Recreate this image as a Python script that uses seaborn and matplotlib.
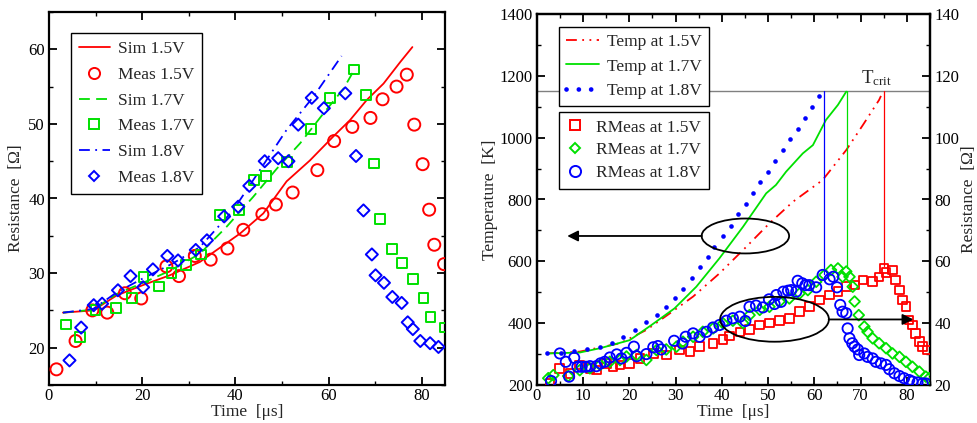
import numpy as np
import pandas as pd
import matplotlib
matplotlib.use("Agg")
import matplotlib.pyplot as plt
from matplotlib.patches import Ellipse
from matplotlib.lines import Line2D
from matplotlib.ticker import MultipleLocator
import seaborn as sns

# ---------------- Left panel data ----------------
sim15_t = [3.0, 9.5, 14.5, 20.2, 25.9, 32.4, 36.0, 41.0, 46.0, 51.0, 56.0, 61.0, 64.6, 68.2, 71.8, 75.4, 78.0]
sim15_r = [24.7, 25.0, 27.0, 28.4, 29.7, 31.5, 33.1, 35.3, 38.0, 42.3, 45.1, 48.3, 50.5, 53.2, 55.4, 58.3, 60.3]
meas15_t = [1.6, 5.7, 9.3, 12.5, 16.3, 19.8, 25.2, 27.9, 31.3, 34.7, 38.3, 41.7, 45.8, 48.7, 52.3, 57.6, 61.2, 65.1, 69.0, 71.6, 74.6, 76.8, 78.4, 80.2, 81.6, 82.7, 84.8]
meas15_r = [17.1, 20.9, 25.0, 24.7, 27.3, 26.6, 30.9, 29.6, 32.3, 31.8, 33.3, 35.8, 37.9, 39.2, 40.8, 43.8, 47.7, 49.6, 50.8, 53.3, 55.0, 56.6, 49.9, 44.6, 38.5, 33.8, 31.2]
sim17_t = [3.0, 9.5, 14.5, 20.2, 25.9, 32.4, 38.1, 43.8, 48.9, 53.9, 58.9, 63.2, 65.3]
sim17_r = [24.7, 25.1, 27.2, 28.7, 30.3, 32.6, 36.2, 40.2, 44.0, 47.4, 51.4, 54.7, 57.0]
meas17_t = [3.6, 6.7, 10.0, 14.3, 17.9, 20.3, 23.6, 26.3, 29.4, 32.7, 36.7, 40.8, 44.0, 46.5, 51.1, 56.2, 60.3, 65.5, 68.0, 69.8, 71.1, 73.7, 75.8, 78.1, 80.4, 81.9, 84.9]
meas17_r = [23.1, 21.4, 25.0, 25.3, 26.7, 29.5, 28.2, 30.0, 31.1, 32.5, 37.8, 38.5, 42.5, 43.0, 44.9, 49.3, 53.5, 57.3, 53.9, 44.7, 37.3, 33.2, 31.3, 29.2, 26.7, 24.1, 22.7]
sim18_t = [3.0, 9.5, 14.5, 20.2, 26.6, 32.4, 39.5, 46.0, 51.0, 56.7, 62.8]
sim18_r = [24.7, 25.2, 27.4, 29.3, 31.3, 33.5, 38.4, 44.5, 49.2, 53.6, 59.1]
meas18_t = [4.4, 6.9, 9.6, 11.4, 14.8, 17.5, 20.2, 22.3, 25.4, 27.7, 31.5, 33.9, 37.6, 40.6, 43.0, 46.3, 49.2, 51.4, 53.5, 56.4, 59.0, 63.6, 65.9, 67.5, 69.3, 70.1, 71.9, 73.7, 75.7, 77.0, 78.1, 79.7, 81.8, 83.6]
meas18_r = [18.3, 22.7, 25.7, 25.9, 27.7, 29.6, 28.1, 30.5, 32.3, 31.7, 33.1, 34.4, 37.6, 38.9, 41.7, 45.0, 45.4, 45.0, 49.9, 53.5, 52.1, 54.1, 45.7, 38.4, 32.5, 29.7, 28.7, 26.8, 26.0, 23.4, 22.5, 20.9, 20.6, 20.1]

# ---------------- Right panel data ----------------
temp15_t = [2.2, 9.3, 18.0, 23.7, 28.8, 33.8, 39.5, 45.3, 50.3, 55.4, 61.8, 66.9, 70.5, 74.0, 74.4]
temp15_T = [302, 308, 335, 378, 432, 486, 561, 647, 723, 793, 863, 960, 1041, 1122, 1135]
temp17_t = [2.2, 9.3, 13.7, 20.1, 24.8, 29.8, 34.5, 39.5, 44.6, 49.6, 51.7, 53.9, 57.5, 59.7, 62.5, 65.1, 66.9]
temp17_T = [302, 305, 319, 345, 394, 448, 518, 610, 712, 820, 847, 890, 949, 976, 1057, 1106, 1149]
temp18_t = [2.3, 5.2, 8.0, 10.8, 13.6, 16.2, 18.7, 21.2, 23.7, 25.9, 28.0, 29.8, 31.6, 33.5, 35.2, 37.0, 38.4, 40.2,
            42.1, 43.6, 45.2, 46.7, 48.3, 49.9, 51.6, 53.2, 54.8, 56.4, 57.9, 59.4, 61.0]
temp18_T = [303, 305, 309, 315, 324, 337, 354, 378, 405, 426, 451, 480, 510, 547, 583, 615, 647, 682,
            715, 752, 786, 822, 855, 890, 925, 960, 995, 1028, 1065, 1100, 1135]

rm15_t = [2.9, 4.9, 7.2, 9.3, 11.5, 12.9, 15.1, 16.5, 18.0, 20.1, 22.3, 25.2, 28.0, 30.9, 33.1, 35.2, 38.1, 40.3, 41.7, 43.9,
          46.0, 48.2, 50.3, 52.5, 54.6, 56.8, 58.9, 61.1, 63.3, 65.1, 66.9, 68.7, 70.5, 72.6, 74.0, 75.5, 75.1, 76.9, 77.6,
          78.4, 79.1, 79.8, 80.5, 81.2, 81.9, 82.7, 83.4, 84.5]
rm15_r = [20.5, 25.4, 23.8, 26.5, 25.4, 24.8, 27.0, 25.9, 26.5, 27.0, 28.6, 30.2, 29.7, 31.3, 30.8, 32.4, 33.5, 34.8, 35.9, 37.2,
          38.0, 39.4, 40.0, 40.8, 41.6, 43.7, 45.3, 47.5, 49.1, 50.2, 51.8, 52.3, 54.0, 53.4, 55.0, 56.3, 57.7, 57.2, 54.0,
          50.7, 47.5, 45.3, 41.0, 39.4, 36.7, 34.0, 32.4, 31.3]
rm17_t = [2.5, 3.6, 6.8, 9.3, 11.5, 13.7, 15.8, 18.0, 19.4, 21.6, 23.7, 25.9, 28.0, 30.2, 31.6, 33.8, 35.9, 38.1, 40.3, 42.4,
          44.6, 46.0, 48.2, 50.3, 52.5, 54.6, 56.8, 58.6, 60.4, 62.2, 63.6, 65.1, 66.1, 66.9, 67.6, 68.3, 68.7, 69.6, 70.8,
          71.5, 72.6, 74.0, 75.5, 76.9, 78.4, 79.8, 81.2, 82.7, 84.1, 84.8]
rm17_r = [22.2, 23.2, 22.9, 24.8, 25.4, 26.5, 27.5, 28.1, 29.2, 29.7, 28.1, 31.3, 31.5, 32.4, 34.0, 35.6, 37.2, 38.3, 39.9, 40.8,
          40.0, 42.6, 44.3, 45.3, 47.0, 48.0, 49.6, 50.7, 53.4, 55.6, 57.2, 57.7, 55.0, 56.7, 55.0, 51.8, 47.0, 42.6, 38.9,
          37.2, 35.1, 33.5, 31.9, 30.2, 29.1, 27.5, 25.9, 24.3, 22.7, 22.2]
rm18_t = [3.1, 5.0, 6.3, 7.0, 8.1, 8.8, 9.7, 10.6, 11.5, 12.9, 13.8, 14.7, 15.8, 17.3, 18.3, 19.4, 21.0, 21.6, 23.7, 25.2,
          26.2, 26.9, 29.7, 31.5, 32.2, 33.8, 35.2, 36.7, 38.1, 39.5, 41.0, 42.4, 43.9, 45.1, 46.0, 47.4, 48.9, 50.2, 51.4,
          51.8, 52.8, 53.3, 54.3, 55.0, 56.1, 56.4, 57.4, 58.1, 58.9, 60.4, 61.8, 63.3, 64.1, 64.9, 65.6, 66.1, 66.9, 67.2,
          67.6, 68.2, 68.7, 69.4, 69.7, 70.8, 71.5, 72.6, 73.3, 74.4, 75.5, 76.2, 77.3, 78.4, 79.4, 80.5, 81.2, 82.3, 83.4, 84.1]
rm18_r = [21.3, 30.2, 27.5, 22.7, 28.8, 25.9, 25.9, 25.9, 26.1, 26.1, 27.0, 27.5, 28.9, 29.9, 28.6, 30.4, 32.4, 29.3, 30.0, 32.2,
          32.6, 31.5, 34.3, 33.4, 35.6, 36.7, 35.6, 37.2, 38.6, 39.4, 40.8, 41.6, 42.1, 40.7, 45.3, 45.7, 45.1, 47.7, 46.2,
          49.1, 46.9, 50.2, 50.5, 50.7, 50.2, 53.7, 52.9, 52.3, 52.3, 51.6, 55.6, 54.2, 55.0, 51.6, 45.9, 43.7, 43.2, 38.3,
          35.1, 33.5, 32.4, 31.5, 29.7, 30.2, 29.1, 28.6, 27.5, 27.0, 26.5, 25.1, 23.8, 22.9, 22.2, 21.6, 21.1, 20.8, 20.5, 20.5]

t_crit = 1150
crit_t = [62.0, 67.0, 75.0]            # times where each voltage reaches T_crit
crit_r_low = [56.0, 58.0, 58.5]        # resistance level at which the marker lines end
crit_colors = ["blue", "#00e000", "red"]

# ---------------- Style ----------------
sns.set_theme(style="ticks")
plt.rcParams["font.family"] = ["Liberation Serif", "DejaVu Serif"]
plt.rcParams["mathtext.fontset"] = "stix"
plt.rcParams["axes.linewidth"] = 1.6
plt.rcParams["xtick.direction"] = "in"
plt.rcParams["ytick.direction"] = "in"
plt.rcParams["xtick.major.size"] = 6
plt.rcParams["ytick.major.size"] = 6
plt.rcParams["xtick.minor.size"] = 3
plt.rcParams["ytick.minor.size"] = 3
plt.rcParams["xtick.major.width"] = 1.3
plt.rcParams["ytick.major.width"] = 1.3
plt.rcParams["xtick.minor.width"] = 1.0
plt.rcParams["ytick.minor.width"] = 1.0
plt.rcParams["xtick.color"] = "black"
plt.rcParams["ytick.color"] = "black"
plt.rcParams["axes.edgecolor"] = "black"

RED = "red"
GREEN = "#00e000"
BLUE = "blue"
FS = 12.5
TFS = 12

fig = plt.figure(figsize=(9.78, 4.23), dpi=100)
axL = fig.add_axes([49 / 978, 1 - 385 / 423, 396 / 978, 373 / 423])
axR = fig.add_axes([536.7 / 978, 1 - 385 / 423, 393.3 / 978, 371 / 423])


def line(ax, x, y, color, ls, lw=1.3, label=None):
    sns.lineplot(x=x, y=y, ax=ax, color=color, linestyle=ls, linewidth=lw,
                 sort=False, estimator=None, label=label, legend=False)


def pts(ax, x, y, color, marker, s, lw=1.4):
    sns.scatterplot(x=x, y=y, ax=ax, marker=marker, s=s, facecolor="none",
                    edgecolor=color, linewidth=lw, legend=False, zorder=3)


# ---------------- Left panel ----------------
line(axL, sim15_t, sim15_r, RED, "-")
pts(axL, meas15_t, meas15_r, RED, "o", 75)
line(axL, sim17_t, sim17_r, GREEN, (0, (6, 3.5)))
pts(axL, meas17_t, meas17_r, GREEN, "s", 50)
line(axL, sim18_t, sim18_r, BLUE, (0, (6, 3, 1, 3)))
pts(axL, meas18_t, meas18_r, BLUE, "D", 38)

axL.set_xlim(0, 85)
axL.set_ylim(15, 65)
axL.xaxis.set_major_locator(MultipleLocator(20))
axL.xaxis.set_minor_locator(MultipleLocator(10))
axL.yaxis.set_major_locator(MultipleLocator(10))
axL.yaxis.set_minor_locator(MultipleLocator(5))
axL.tick_params(which="both", top=True, right=True, labelsize=TFS)
axL.tick_params(axis="x", pad=2)
axL.tick_params(axis="y", pad=3)
axL.set_xlabel("Time  [μs]", fontsize=FS, labelpad=0)
axL.set_ylabel("Resistance  [Ω]", fontsize=FS, labelpad=3)

hL = [
    Line2D([], [], color=RED, lw=1.3, ls="-"),
    Line2D([], [], color=RED, lw=0, marker="o", ms=8, mfc="none", mew=1.4),
    Line2D([], [], color=GREEN, lw=1.3, ls=(0, (6, 3.5))),
    Line2D([], [], color=GREEN, lw=0, marker="s", ms=6.5, mfc="none", mew=1.4),
    Line2D([], [], color=BLUE, lw=1.3, ls=(0, (6, 3, 1, 3))),
    Line2D([], [], color=BLUE, lw=0, marker="D", ms=5.5, mfc="none", mew=1.4),
]
labL = ["Sim 1.5V", "Meas 1.5V", "Sim 1.7V", "Meas 1.7V", "Sim 1.8V", "Meas 1.8V"]
legL = axL.legend(hL, labL, loc="upper left", bbox_to_anchor=(0.055, 0.944), borderaxespad=0,
                  fontsize=FS, frameon=True, fancybox=False, edgecolor="black", framealpha=1,
                  handlelength=1.8, labelspacing=0.56, borderpad=0.45, handletextpad=0.45)
legL.get_frame().set_linewidth(1.0)

# ---------------- Right panel ----------------
axR2 = axR.twinx()

axR.axhline(t_crit, color="#808080", lw=1.0, zorder=1)
line(axR, temp15_t, temp15_T, RED, (0, (6, 3, 1, 3, 1, 3)))
line(axR, temp17_t, temp17_T, GREEN, "-")
sns.scatterplot(x=temp18_t, y=temp18_T, ax=axR, marker="o", s=11, color=BLUE,
                edgecolor=BLUE, linewidth=0, legend=False, zorder=3)

pts(axR2, rm15_t, rm15_r, RED, "s", 38, lw=1.3)
pts(axR2, rm17_t, rm17_r, GREEN, "D", 30, lw=1.3)
pts(axR2, rm18_t, rm18_r, BLUE, "o", 55, lw=1.3)

for xt, rl, c in zip(crit_t, crit_r_low, crit_colors):
    axR2.plot([xt, xt], [rl, t_crit / 10], color=c, lw=0.9, zorder=2)

axR.text(70.0, 1160, r"T$_{\mathregular{crit}}$", fontsize=FS + 1, ha="left", va="bottom")

# annotation ellipses and arrows (drawn on resistance axis, R = T/10)
axR2.add_patch(Ellipse((45.1, 68.2), 18.9, 11.3, fill=False, ec="black", lw=1.3, zorder=5))
axR2.add_patch(Ellipse((51.4, 41.25), 23.5, 14.5, fill=False, ec="black", lw=1.3, zorder=5))
axR2.annotate("", xy=(6.6, 68.2), xytext=(35.7, 68.2),
              arrowprops=dict(arrowstyle="-|>", color="black", lw=1.3, mutation_scale=16, shrinkA=0, shrinkB=0))
axR2.annotate("", xy=(81.4, 41.2), xytext=(63.1, 41.2),
              arrowprops=dict(arrowstyle="-|>", color="black", lw=1.3, mutation_scale=16, shrinkA=0, shrinkB=0))

axR.set_xlim(0, 85)
axR.set_ylim(200, 1400)
axR2.set_ylim(20, 140)
axR.xaxis.set_major_locator(MultipleLocator(10))
axR.xaxis.set_minor_locator(MultipleLocator(5))
axR.yaxis.set_major_locator(MultipleLocator(200))
axR.yaxis.set_minor_locator(MultipleLocator(100))
axR2.yaxis.set_major_locator(MultipleLocator(20))
axR2.yaxis.set_minor_locator(MultipleLocator(10))
axR.tick_params(which="both", top=True, right=False, labelsize=TFS)
axR.tick_params(axis="x", pad=2)
axR.tick_params(axis="y", pad=3)
axR2.tick_params(which="both", right=True, labelsize=TFS, pad=3)
axR.set_xlabel("Time  [μs]", fontsize=FS, labelpad=0)
axR.set_ylabel("Temperature  [K]", fontsize=FS, labelpad=1)
axR2.set_ylabel("Resistance  [Ω]", fontsize=FS, labelpad=1)
for sp in axR2.spines.values():
    sp.set_linewidth(1.6)

hT = [
    Line2D([], [], color=RED, lw=1.3, ls=(0, (6, 3, 1, 3, 1, 3))),
    Line2D([], [], color=GREEN, lw=1.3, ls="-"),
    Line2D([], [], color=BLUE, lw=3.4, ls=(0, (0.01, 2.6)), dash_capstyle="round"),
]
legT = axR2.legend(hT, ["Temp at 1.5V", "Temp at 1.7V", "Temp at 1.8V"], loc="upper left",
                   bbox_to_anchor=(0.056, 0.966), borderaxespad=0, fontsize=FS, frameon=True,
                   fancybox=False, edgecolor="black", framealpha=1, handlelength=1.9,
                   labelspacing=0.5, borderpad=0.4, handletextpad=0.5)
legT.get_frame().set_linewidth(1.0)
axR2.add_artist(legT)

hM = [
    Line2D([], [], color=RED, lw=0, marker="s", ms=6.5, mfc="none", mew=1.4),
    Line2D([], [], color=GREEN, lw=0, marker="D", ms=5.5, mfc="none", mew=1.4),
    Line2D([], [], color=BLUE, lw=0, marker="o", ms=8, mfc="none", mew=1.4),
]
legM = axR2.legend(hM, ["RMeas at 1.5V", "RMeas at 1.7V", "RMeas at 1.8V"], loc="upper left",
                   bbox_to_anchor=(0.056, 0.737), borderaxespad=0, fontsize=FS, frameon=True,
                   fancybox=False, edgecolor="black", framealpha=1, handlelength=1.0,
                   labelspacing=0.38, borderpad=0.45, handletextpad=0.7)
legM.get_frame().set_linewidth(1.0)

fig.savefig("out.png", dpi=100)
